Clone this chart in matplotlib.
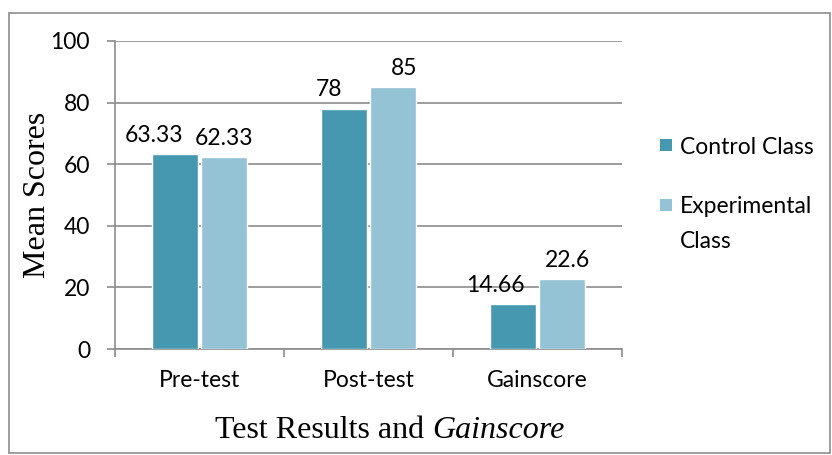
import matplotlib
matplotlib.use("Agg")
import matplotlib.pyplot as plt
import numpy as np
from matplotlib.patches import Rectangle

categories = ["Pre-test", "Post-test", "Gainscore"]
control = [63.33, 78, 14.66]
experimental = [62.33, 85, 22.6]
control_labels = ["63.33", "78", "14.66"]
experimental_labels = ["62.33", "85", "22.6"]
yticks = [0, 20, 40, 60, 80, 100]
series_names = [["Control Class"], ["Experimental", "Class"]]

c_control = "#4598B0"
c_exper = "#93C3D5"
grid_c = "#8c8c8c"

plt.rcParams["font.family"] = ["Lato", "DejaVu Sans"]

fig = plt.figure(figsize=(8.32, 4.55), dpi=100)
ax = fig.add_axes([115 / 832, 106 / 455, 507 / 832, 308 / 455])

x = np.arange(len(categories))
w = 0.27
off = 0.145
ax.bar(x - off, control, w, color=c_control, edgecolor="white", linewidth=1, zorder=3)
ax.bar(x + off, experimental, w, color=c_exper, edgecolor="white", linewidth=1, zorder=3)

# data labels (Excel nudged them sideways to avoid overlap)
c_dx = [-15, -11, -13]
e_dx = [0, 8, 4]
for i in range(len(categories)):
    ax.annotate(control_labels[i], (x[i] - off, control[i]), xytext=(c_dx[i], 6),
                textcoords="offset points", ha="center", va="bottom", fontsize=16.5)
    ax.annotate(experimental_labels[i], (x[i] + off, experimental[i]), xytext=(e_dx[i], 6),
                textcoords="offset points", ha="center", va="bottom", fontsize=16.5)

ax.set_xlim(-0.5, 2.5)
ax.set_ylim(0, 100)
ax.set_yticks(yticks)
ax.set_yticklabels([str(t) for t in yticks], fontsize=16.5)
ax.yaxis.grid(True, color=grid_c, linewidth=1.2, zorder=0)
ax.set_axisbelow(True)

ax.set_xticks(x)
ax.set_xticklabels(categories, fontsize=16.5)
ax.set_xticks([-0.5, 0.5, 1.5, 2.5], minor=True)
ax.tick_params(axis="x", which="major", length=0, pad=15)
ax.tick_params(axis="x", which="minor", length=6, width=1.2, color=grid_c, direction="out")
ax.tick_params(axis="y", length=6, width=1.2, color=grid_c, direction="out", pad=12)

for s in ["top", "right"]:
    ax.spines[s].set_visible(False)
for s in ["left", "bottom"]:
    ax.spines[s].set_color(grid_c)
    ax.spines[s].set_linewidth(1.2)

fig.text(38 / 832, 1 - 195 / 455, "Mean Scores", rotation=90, ha="center", va="center",
         fontsize=23, family="Liberation Serif")
t1 = fig.text(215 / 832, 1 - 438 / 455, "Test Results and ", ha="left", va="baseline",
              fontsize=23, family="Liberation Serif")
fig.canvas.draw()
ax.annotate("Gainscore", xy=(1, 0), xycoords=t1, ha="left", va="bottom",
            fontsize=23, family="Liberation Serif", style="italic", annotation_clip=False)

# legend drawn by hand, squares line up with the first text line
leg_colors = [c_control, c_exper]
leg_y = [145, 205]
for col, lines, yy in zip(leg_colors, series_names, leg_y):
    fig.patches.append(Rectangle((660 / 832, 1 - (yy + 6) / 455), 12 / 832, 12 / 455,
                                 transform=fig.transFigure, facecolor=col, edgecolor="none"))
    for k, line in enumerate(lines):
        fig.text(680 / 832, 1 - (yy + 35 * k) / 455, line, ha="left", va="center_baseline",
                 fontsize=16.5)

fig.patches.append(Rectangle((9 / 832, 2 / 455), 821 / 832, 440 / 455, transform=fig.transFigure,
                             fill=False, edgecolor=grid_c, linewidth=1.2))

fig.savefig("out.png", dpi=100)
